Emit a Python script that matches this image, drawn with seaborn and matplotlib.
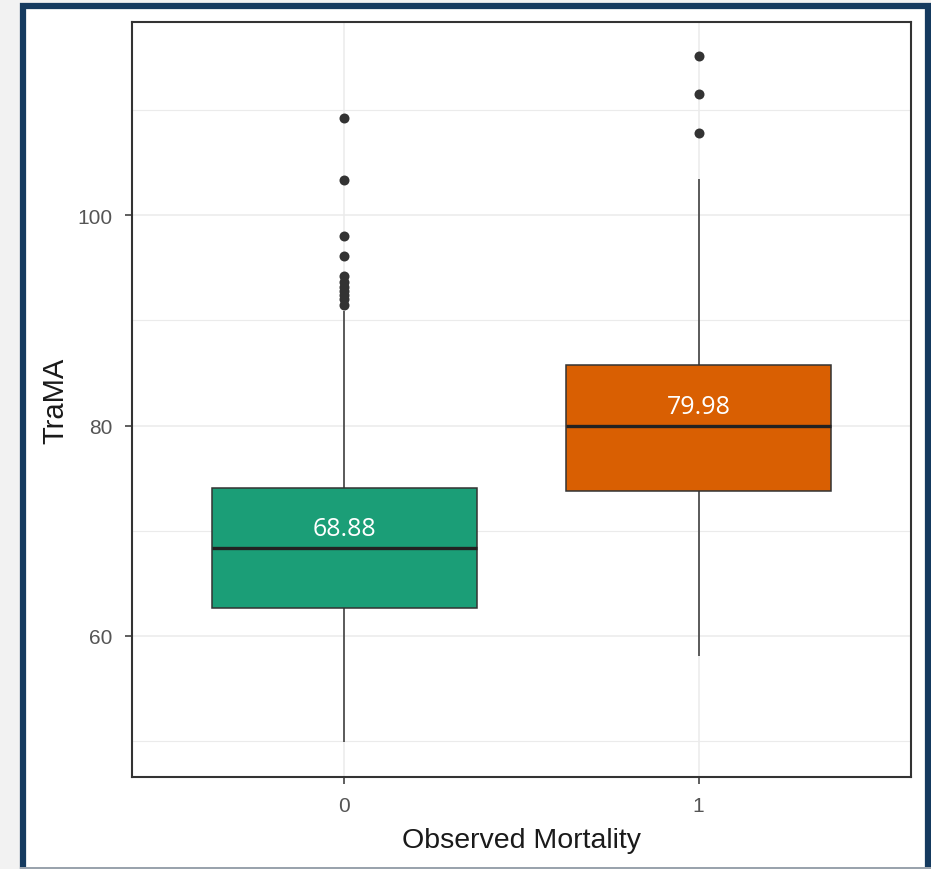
import pandas as pd
import matplotlib.pyplot as plt
import seaborn as sns
import numpy as np
from matplotlib.patches import Rectangle
from matplotlib.ticker import MultipleLocator

# five-number summary (whisker low, Q1, median, Q3, whisker high)
groups = ['0', '1']
whisker_low = [49.9, 58.1]
q1 = [62.7, 73.8]
median = [68.35, 79.98]
q3 = [74.1, 85.8]
whisker_high = [90.9, 103.4]
outliers_0 = [109.2, 103.3, 98.05, 96.15, 94.2, 93.6, 93.2, 92.8, 92.4, 92.0, 91.5]
outliers_1 = [115.1, 111.5, 107.8]
median_labels = ['68.88', '79.98']

box_df = pd.DataFrame({
    'Observed Mortality': np.repeat(groups, 5),
    'TraMA': np.ravel(np.column_stack([whisker_low, q1, median, q3, whisker_high])),
})
out_df = pd.DataFrame({
    'Observed Mortality': ['0'] * len(outliers_0) + ['1'] * len(outliers_1),
    'TraMA': outliers_0 + outliers_1,
})

sns.set_style('white')
plt.rcParams['font.family'] = ['Liberation Sans', 'DejaVu Sans']

fig = plt.figure(figsize=(9.31, 8.70), dpi=100)
fig.set_facecolor('#f2f2f2')
# slide frame around the plot
fig.patches.append(Rectangle((23 / 931, -0.05), 905 / 931, 1.05 - 7 / 870,
                             transform=fig.transFigure, facecolor='white',
                             edgecolor='#153a5f', linewidth=4.5, zorder=-2))
fig.patches.append(Rectangle((20 / 931, 0), 911 / 931, 2 / 870,
                             transform=fig.transFigure, facecolor='#9aa3ad',
                             edgecolor='none', zorder=-1))

ax = fig.add_axes([132 / 931, 92 / 870, 779 / 931, 755 / 870])
ax.set_facecolor('white')

sns.boxplot(data=box_df, x='Observed Mortality', y='TraMA', hue='Observed Mortality',
            palette=['#1b9e77', '#d95f02'], saturation=1, width=0.75, whis=(0, 100),
            linecolor='#333333', linewidth=1.1, showfliers=False, showcaps=False,
            medianprops=dict(linewidth=2.4, color='#222222'), legend=False, ax=ax, zorder=3)
sns.stripplot(data=out_df, x='Observed Mortality', y='TraMA', jitter=False,
              color='#333333', size=7.2, linewidth=0, ax=ax, zorder=4)

for i, (lab, m) in enumerate(zip(median_labels, median)):
    ax.text(i, m + 1.85, lab, ha='center', va='center', color='white',
            fontsize=18, family=['Open Sans', 'DejaVu Sans'], zorder=5)

ax.set_xlim(-0.6, 1.6)
ax.set_ylim(46.6, 118.35)
ax.yaxis.set_major_locator(MultipleLocator(20))
ax.yaxis.set_minor_locator(MultipleLocator(10))
ax.set_axisbelow(True)
ax.grid(True, which='major', color='#ebebeb', linewidth=1.1)
ax.grid(True, which='minor', axis='y', color='#ebebeb', linewidth=0.8)

for s in ax.spines.values():
    s.set_color('#333333')
    s.set_linewidth(1.5)
ax.tick_params(axis='both', which='major', length=5, width=1.1, color='#333333',
               labelcolor='#555555', labelsize=15, pad=9, left=True, bottom=True)
ax.tick_params(axis='y', which='minor', length=0)

ax.set_xlabel('Observed Mortality', fontsize=20.5, color='#1a1a1a', labelpad=8)
ax.set_ylabel('TraMA', fontsize=21, color='#1a1a1a', labelpad=6)

plt.savefig('out.png', dpi=100, facecolor=fig.get_facecolor())
